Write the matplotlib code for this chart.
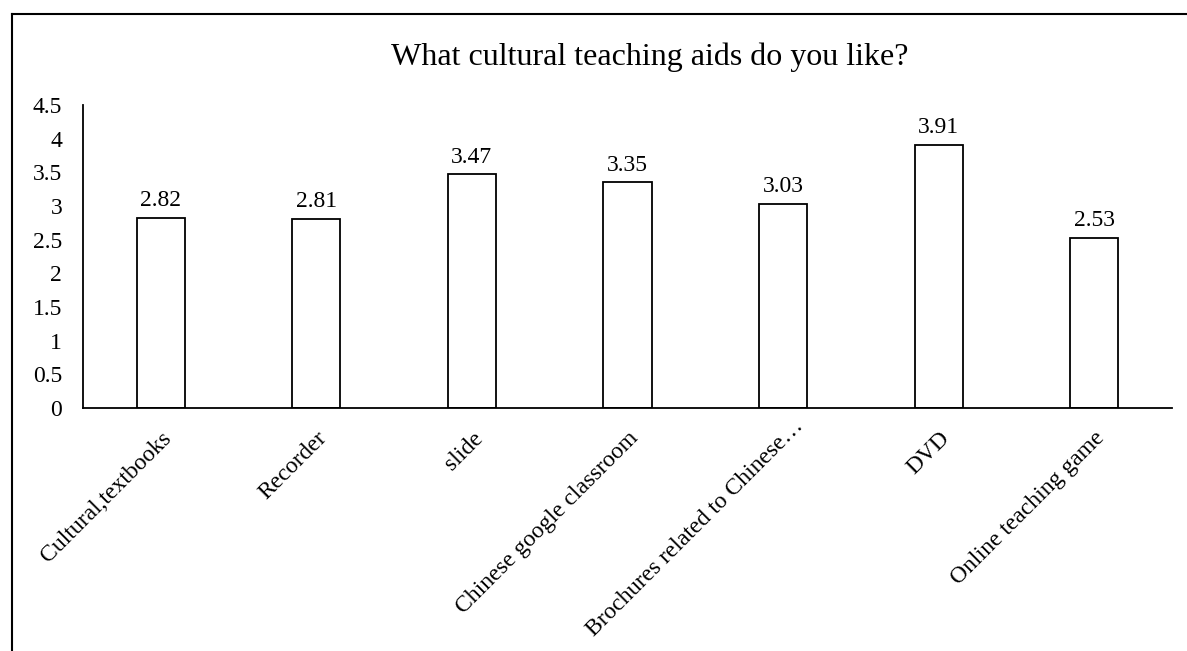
import numpy as np
import matplotlib.pyplot as plt
import matplotlib.transforms as mtransforms
from matplotlib.lines import Line2D

categories = [
    "Cultural,textbooks",
    "Recorder",
    "slide",
    "Chinese google classroom",
    "Brochures related to Chinese\u2026",
    "DVD",
    "Online teaching game",
]
scores = [2.82, 2.81, 3.47, 3.35, 3.03, 3.91, 2.53]
y_ticks = [0, 0.5, 1, 1.5, 2, 2.5, 3, 3.5, 4, 4.5]

plt.rcParams["font.family"] = ["Liberation Serif", "DejaVu Serif"]

fig = plt.figure(figsize=(11.87, 6.51), dpi=100)
ax = fig.add_axes([0.0699, 0.373, 0.9175, 0.466])

x = np.arange(len(categories))
bars = ax.bar(x, scores, width=0.31, color="white", edgecolor="black", linewidth=1.3)
for rect, v in zip(bars, scores):
    ax.text(rect.get_x() + rect.get_width() / 2, v + 0.1, f"{v:.2f}",
            ha="center", va="bottom", fontsize=17)

ax.set_xlim(-0.5, len(categories) - 0.5)
ax.set_ylim(0, 4.5)
ax.set_yticks(y_ticks)
ax.set_yticklabels([f"{t:g}" for t in y_ticks], fontsize=17)
ax.set_xticks(x)
ax.set_xticklabels(categories, rotation=45, ha="right", rotation_mode="anchor", fontsize=17)
ax.tick_params(length=0)
ax.tick_params(axis="x", pad=14)
ax.tick_params(axis="y", pad=15)
for s in ["top", "right"]:
    ax.spines[s].set_visible(False)
for s in ["left", "bottom"]:
    ax.spines[s].set_linewidth(1.3)

# the truncated label sits a little higher and to the right
lab = ax.get_xticklabels()[4]
lab.set_transform(lab.get_transform() + mtransforms.ScaledTranslation(0.10, 0.12, fig.dpi_scale_trans))

fig.text(0.547, 0.912, "What cultural teaching aids do you like?", ha="center", va="center", fontsize=23)

# outer frame (top and left edges visible)
fig.add_artist(Line2D([0.0101, 1.0], [0.979, 0.979], color="black", lw=1.5, transform=fig.transFigure))
fig.add_artist(Line2D([0.0101, 0.0101], [0.0, 0.979], color="black", lw=1.5, transform=fig.transFigure))

fig.savefig("out.png", dpi=100)
